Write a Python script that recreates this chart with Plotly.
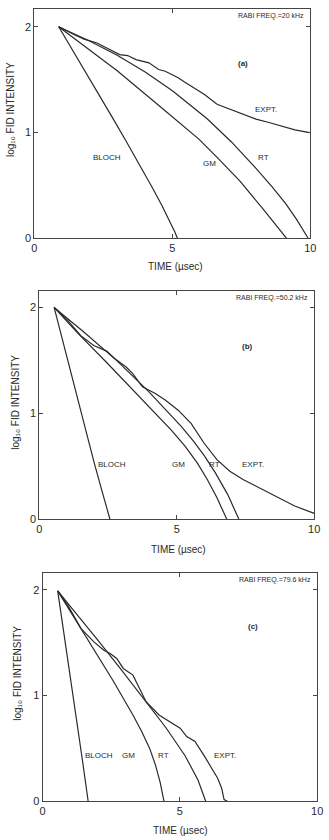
import plotly.graph_objects as go

# ---------------- data ----------------
# Panel (a)  Rabi freq = 20 kHz
a_bloch_t = [0.88, 1.5, 2.2, 2.86, 3.33, 3.80, 4.27, 4.62, 4.91, 5.09, 5.18]
a_bloch_y = [2.0, 1.73, 1.42, 1.127, 0.915, 0.70, 0.48, 0.31, 0.16, 0.06, 0.0]
a_gm_t = [0.88, 2.0, 3.0, 4.5, 5.09, 5.97, 6.62, 7.45, 8.26, 8.7, 9.14]
a_gm_y = [2.0, 1.78, 1.585, 1.258, 1.127, 0.935, 0.765, 0.54, 0.285, 0.145, 0.0]
a_rt_t = [0.88, 2.0, 3.0, 4.0, 5.0, 6.26, 7.14, 8.03, 8.6, 9.1, 9.5, 9.92]
a_rt_y = [2.0, 1.866, 1.731, 1.576, 1.396, 1.131, 0.911, 0.662, 0.491, 0.331, 0.179, 0.0]
a_ex_t = [0.88, 1.21, 1.45, 1.80, 2.27, 2.62, 3.09, 3.38, 3.68, 4.15, 4.50, 4.74,
          5.21, 5.44, 5.67, 6.15, 6.62, 7.08, 7.56, 8.03, 8.50, 8.97, 9.44, 9.97]
a_ex_y = [2.0, 1.953, 1.925, 1.884, 1.847, 1.80, 1.737, 1.728, 1.69, 1.659, 1.596, 1.58,
          1.518, 1.477, 1.44, 1.362, 1.268, 1.22, 1.174, 1.127, 1.095, 1.058, 1.026, 1.0]

# Panel (b)  Rabi freq = 50.2 kHz
b_bloch_t = [0.54, 1.0, 1.5, 2.0, 2.3, 2.57]
b_bloch_y = [2.0, 1.53, 1.03, 0.53, 0.25, 0.0]
b_gm_t = [0.54, 1.39, 2.45, 3.63, 4.81, 5.3, 5.75, 6.1, 6.45, 6.82]
b_gm_y = [2.0, 1.76, 1.48, 1.16, 0.84, 0.69, 0.53, 0.38, 0.21, 0.0]
b_rt_t = [0.54, 1.63, 2.81, 3.99, 5.17, 5.6, 6.0, 6.4, 6.85, 7.26]
b_rt_y = [2.0, 1.766, 1.5, 1.203, 0.875, 0.74, 0.60, 0.44, 0.235, 0.0]
b_ex_t = [0.54, 1.04, 1.51, 1.98, 2.45, 2.75, 3.16, 3.40, 3.75, 4.22, 4.58, 5.05,
          5.52, 5.99, 6.46, 6.93, 7.41, 8.11, 8.82, 9.29, 10.0]
b_ex_y = [2.0, 1.875, 1.734, 1.64, 1.5875, 1.516, 1.4375, 1.375, 1.25, 1.1875, 1.125, 1.03,
          0.906, 0.72, 0.5625, 0.453, 0.375, 0.28, 0.1875, 0.125, 0.056]

# Panel (c)  Rabi freq = 79.6 kHz
c_bloch_t = [0.55, 0.9, 1.2, 1.45, 1.66]
c_bloch_y = [1.99, 1.38, 0.85, 0.39, 0.0]
c_gm_t = [0.55, 1.16, 1.87, 2.58, 3.29, 3.6, 3.9, 4.12, 4.28, 4.42]
c_gm_y = [1.99, 1.735, 1.44, 1.135, 0.815, 0.665, 0.5, 0.335, 0.18, 0.0]
c_rt_t = [0.55, 1.28, 1.99, 2.82, 3.65, 4.48, 5.19, 5.66, 5.94]
c_rt_y = [1.99, 1.76, 1.53, 1.26, 0.985, 0.70, 0.43, 0.2, 0.0]
c_ex_t = [0.55, 0.92, 1.40, 1.87, 2.23, 2.46, 2.70, 2.94, 3.29, 3.77, 4.24, 4.72, 5.01,
          5.25, 5.55, 5.90, 6.14, 6.37, 6.52, 6.61, 6.73]
c_ex_y = [1.99, 1.852, 1.633, 1.507, 1.429, 1.397, 1.35, 1.256, 1.193, 0.942, 0.816, 0.738, 0.691,
          0.612, 0.565, 0.424, 0.314, 0.22, 0.126, 0.016, 0.0]

curve_names = ["BLOCH", "GM", "RT", "EXPT."]
rabi_labels = ["RABI FREQ.=20 kHz", "RABI FREQ.=50.2 kHz", "RABI FREQ.=79.6 kHz"]
panel_tags = ["(a)", "(b)", "(c)"]
# label positions (data coordinates) per panel: BLOCH, GM, RT, EXPT.
label_x = [[2.62, 6.35, 8.3, 8.41], [2.64, 5.07, 6.37, 7.76], [2.05, 3.12, 4.42, 6.64]]
label_y = [[0.76, 0.71, 0.76, 1.22], [0.52, 0.52, 0.52, 0.52], [0.43, 0.43, 0.43, 0.43]]
tag_xy = [(7.57, 1.65), (7.58, 1.63), (7.68, 1.65)]
x_ticks = [0, 5, 10]
y_ticks = [0, 1, 2]

panels = [
    (a_bloch_t, a_bloch_y, a_gm_t, a_gm_y, a_rt_t, a_rt_y, a_ex_t, a_ex_y),
    (b_bloch_t, b_bloch_y, b_gm_t, b_gm_y, b_rt_t, b_rt_y, b_ex_t, b_ex_y),
    (c_bloch_t, c_bloch_y, c_gm_t, c_gm_y, c_rt_t, c_rt_y, c_ex_t, c_ex_y),
]

# ---------------- layout geometry (pixels) ----------------
W, H = 329, 840
# (left, right, top, bottom, ytop_range)
geom = [(32.3, 316.0, 9.0, 240.0, 2.169),
        (37.3, 320.0, 293.0, 523.0, 2.156),
        (40.7, 323.0, 577.0, 807.0, 2.16)]
ytitle_pos = [(7, 110), (12, 405), (15, 678)]
xtitle_pos = [(177, 268), (180, 553), (182, 836)]

FONT = "Liberation Sans, Arial, sans-serif"
INK = "#2a2a2a"

fig = go.Figure()
annotations = []
layout = dict(width=W, height=H, margin=dict(l=0, r=0, t=0, b=0),
              paper_bgcolor="white", plot_bgcolor="white", showlegend=False)

for i, data in enumerate(panels):
    n = "" if i == 0 else str(i + 1)
    xa, ya = "x" + n, "y" + n
    L, R, T, B, ytop = geom[i]
    common = dict(showgrid=False, zeroline=False, showline=True, mirror="ticks",
                  linecolor="#444", linewidth=1, ticks="inside", ticklen=4,
                  tickwidth=1, tickcolor="#444",
                  tickfont=dict(family=FONT, size=11, color=INK))
    layout["xaxis" + n] = dict(common, domain=[L / W, R / W], range=[0, 10],
                               tickvals=x_ticks, ticktext=[str(v) for v in x_ticks],
                               anchor=ya, fixedrange=True)
    layout["yaxis" + n] = dict(common, domain=[1 - B / H, 1 - T / H], range=[0, ytop],
                               tickvals=y_ticks, ticktext=[str(v) for v in y_ticks],
                               anchor=xa, fixedrange=True)
    for k in range(4):
        t, y = data[2 * k], data[2 * k + 1]
        fig.add_trace(go.Scatter(x=t, y=y, mode="lines", xaxis=xa, yaxis=ya,
                                 line=dict(color=INK, width=1.2),
                                 name=curve_names[k], hoverinfo="skip"))
        annotations.append(dict(x=label_x[i][k], y=label_y[i][k], xref=xa, yref=ya,
                                text=curve_names[k], showarrow=False,
                                font=dict(family=FONT, size=8, color=INK)))
    annotations.append(dict(x=tag_xy[i][0], y=tag_xy[i][1], xref=xa, yref=ya,
                            text="<b>" + panel_tags[i] + "</b>", showarrow=False,
                            font=dict(family=FONT, size=8, color=INK)))
    annotations.append(dict(x=(R - 4) / W, y=1 - (T + 7) / H, xref="paper", yref="paper",
                            xanchor="right", yanchor="middle", text=rabi_labels[i],
                            showarrow=False, font=dict(family=FONT, size=7, color=INK)))
    annotations.append(dict(x=xtitle_pos[i][0] / W, y=1 - xtitle_pos[i][1] / H,
                            xref="paper", yref="paper", text="TIME (µsec)",
                            showarrow=False, yanchor="middle",
                            font=dict(family=FONT, size=10, color=INK)))
    annotations.append(dict(x=ytitle_pos[i][0] / W, y=1 - ytitle_pos[i][1] / H,
                            xref="paper", yref="paper", textangle=-90,
                            text="log₁₀ FID INTENSITY",
                            showarrow=False, xanchor="center", yanchor="middle",
                            font=dict(family=FONT, size=10, color=INK)))

layout["annotations"] = annotations
fig.update_layout(**layout)
fig.write_html("out.html")
